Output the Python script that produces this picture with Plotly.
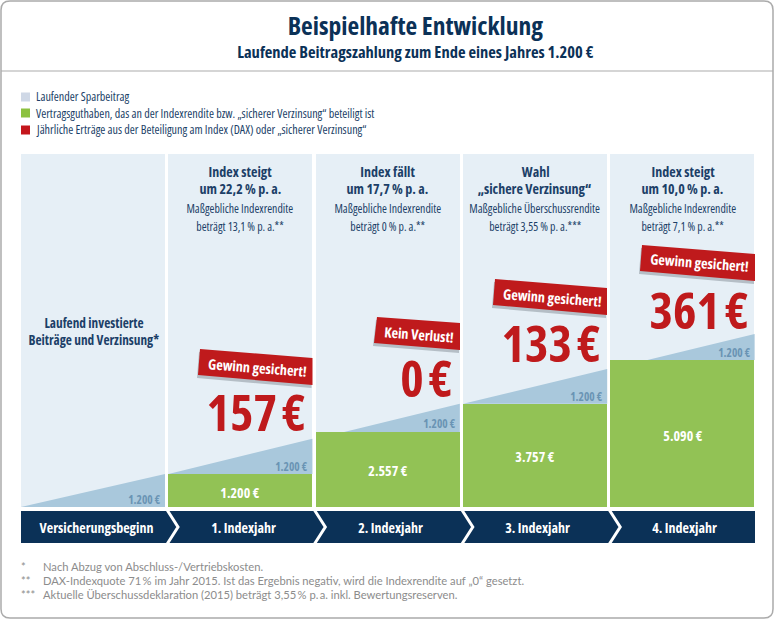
import numpy as np
import plotly.graph_objects as go

W, H = 775, 619
NAVY = "#0b3157"
TXT = "#1c3f68"
RED = "#bf1a1c"
NARROW = "Open Sans, sans-serif"
FOOT = "Lato, sans-serif"

categories = ["Versicherungsbeginn", "1. Indexjahr", "2. Indexjahr", "3. Indexjahr", "4. Indexjahr"]
# Heights, in euros at the scale of the first 1.200 € block
guthaben_drawn = [0, 1200, 2730, 3750, 5345]
beitrag_line = [0, 1200, 2480, 3750, 5020, 6290]
guthaben_labels = ["", "1.200 €", "2.557 €", "3.757 €", "5.090 €"]
beitrag_label = "1.200 €"
ertrag_labels = ["", "157\u200a€", "0\u200a€", "133\u200a€", "361\u200a€"]
banner_labels = ["", "Gewinn gesichert!", "Kein Verlust!", "Gewinn gesichert!", "Gewinn gesichert!"]
head1 = ["", "Index steigt", "Index fällt", "Wahl", "Index steigt"]
head2 = ["", "um 22,2\u2009% p.\u2009a.", "um 17,7\u2009% p.\u2009a.", "„sichere Verzinsung“", "um 10,0\u2009% p.\u2009a."]
sub1 = ["", "Maßgebliche Indexrendite", "Maßgebliche Indexrendite", "Maßgebliche Überschussrendite", "Maßgebliche Indexrendite"]
sub2 = ["", "beträgt 13,1\u2009% p.\u2009a.**", "beträgt 0\u2009% p.\u2009a.**", "beträgt 3,55\u2009% p.\u2009a.***", "beträgt 7,1\u2009% p.\u2009a.**"]
legend_labels = ["Laufender Sparbeitrag",
                 "Vertragsguthaben, das an der Indexrendite bzw. „sicherer Verzinsung“ beteiligt ist",
                 "Jährliche Erträge aus der Beteiligung am Index (DAX) oder „sicherer Verzinsung“"]
foot_marks = ["*", "**", "***"]
foot_texts = ["Nach Abzug von Abschluss-/Vertriebskosten.",
              "DAX-Indexquote 71\u2009% im Jahr 2015. Ist das Ergebnis negativ, wird die Indexrendite auf „0“ gesetzt.",
              "Aktuelle Überschussdeklaration (2015) beträgt 3,55\u2009% p.\u2009a. inkl. Bewertungsreserven."]

PANEL_TOP = 12836
BAR_W = 0.977
xs = np.arange(5)
fig = go.Figure()
fig.add_bar(x=xs, y=[PANEL_TOP] * 5, width=BAR_W, marker=dict(color="#e6eff6", line_width=0), hoverinfo="skip")
fig.add_bar(x=xs, y=guthaben_drawn, width=BAR_W, marker=dict(color="#92c255", line_width=0), hoverinfo="skip")

for i in xs:
    l, r = i - BAR_W / 2, i + BAR_W / 2
    a, b, g = beitrag_line[i], beitrag_line[i + 1], guthaben_drawn[i]
    start = l if a >= g else l + (g - a) / (b - a) * BAR_W
    sy = max(a, g)
    fig.add_scatter(x=[start, r, r, start], y=[sy, b, g, sy], mode="lines", fill="toself",
                    fillcolor="#a9c8dc", line=dict(width=0), hoverinfo="skip")

fig.update_layout(
    width=W, height=H, margin=dict(l=0, r=0, t=0, b=0), paper_bgcolor="white", plot_bgcolor="white",
    showlegend=False, barmode="overlay", bargap=0,
    xaxis=dict(domain=[19.3 / W, 756.3 / W], range=[-0.5, 4.5], visible=False, fixedrange=True),
    yaxis=dict(domain=[1 - 507 / H, 1 - 154 / H], range=[0, PANEL_TOP], visible=False, fixedrange=True),
)

px = lambda x: x / W
py = lambda y: 1 - y / H
shapes, ann = [], []


def path(points, closed=True):
    s = "M " + " L ".join(f"{px(x):.5f},{py(y):.5f}" for x, y in points)
    return s + (" Z" if closed else "")


def poly(points, fill=None, line=None, lw=0, closed=True):
    shapes.append(dict(type="path", xref="paper", yref="paper", path=path(points, closed),
                       fillcolor=fill if fill else "rgba(0,0,0,0)",
                       line=dict(color=line if line else "rgba(0,0,0,0)", width=lw)))


def text(x, y, t, size, color=TXT, bold=False, anchor="center", angle=0, font=NARROW, weight=None):
    f = dict(family=font, size=size, color=color)
    if weight:
        f["weight"] = weight
    elif bold:
        f["weight"] = 700
    ann.append(dict(xref="paper", yref="paper", x=px(x), y=py(y), text=t, showarrow=False,
                    xanchor=anchor, yanchor="middle", textangle=angle, align=anchor, font=f))


# Card frame
R = 9
x0, x1, y0, y1 = 1, 773, 1, 618
frame = (f"M {px(x0+R):.5f},{py(y0):.5f} L {px(x1-R):.5f},{py(y0):.5f} "
         f"Q {px(x1):.5f},{py(y0):.5f} {px(x1):.5f},{py(y0+R):.5f} L {px(x1):.5f},{py(y1-R):.5f} "
         f"Q {px(x1):.5f},{py(y1):.5f} {px(x1-R):.5f},{py(y1):.5f} L {px(x0+R):.5f},{py(y1):.5f} "
         f"Q {px(x0):.5f},{py(y1):.5f} {px(x0):.5f},{py(y1-R):.5f} L {px(x0):.5f},{py(y0+R):.5f} "
         f"Q {px(x0):.5f},{py(y0):.5f} {px(x0+R):.5f},{py(y0):.5f} Z")
shapes.append(dict(type="path", xref="paper", yref="paper", path=frame, line=dict(color="#ababab", width=1.5)))
poly([(1, 71), (773, 71)], line="#ababab", lw=1.2, closed=False)

text(415, 25, "Beispielhafte Entwicklung", 25.5, NAVY, True)
text(415, 52, "Laufende Beitragszahlung zum Ende eines Jahres 1.200 €", 16.5, NAVY, True)

# Legend
for y, c, t in zip([97, 113, 130], ["#cfd8e6", "#8cc13f", "#c4161c"], legend_labels):
    poly([(21, y - 4.5), (30, y - 4.5), (30, y + 4.5), (21, y + 4.5)], fill=c)
    text(34, y, t, 12.1, TXT, anchor="left")

# Chevron band
poly([(21, 511), (755, 511), (755, 543), (21, 543)], fill=NAVY)
cx = [93, 240, 387.5, 535, 682.5]
cat_x = [96, 244, 391, 538, 685]
for k, edge in enumerate([166.5, 313.8, 461.3, 608.7]):
    poly([(edge, 509), (edge + 11.5, 527), (edge, 545)], line="white", lw=3, closed=False)
for c, t in zip(cat_x, categories):
    text(c, 527, t, 14, "white", True)

# Left panel caption
text(94, 323, "Laufend investierte", 13.3, TXT, True)
text(94, 340, "Beiträge und Verzinsung*", 13.3, TXT, True)

# Panel headings
for i in range(1, 5):
    text(cx[i], 171, head1[i], 14, TXT, True)
    text(cx[i], 188, head2[i], 14, TXT, True)
    text(cx[i], 208, sub1[i], 11.8)
    text(cx[i], 226, sub2[i], 11.8)

# 1.200 € labels in the wedges and green values
for rx, y in zip([163, 310, 458, 605, 753], [499, 466, 423, 396, 352]):
    text(rx, y, beitrag_label, 11.5, "#6a94b4", True, anchor="right")
for i, y in zip(range(1, 5), [492, 470, 456, 435]):
    text(cx[i], y, guthaben_labels[i], 14, "white", True)

# Banners and big numbers
banners = [None,
           [(200, 349), (312.5, 358), (312.5, 385), (198, 375)],
           [(377, 317), (460, 323), (460, 350), (374, 343)],
           [(495, 279), (607, 288), (607, 315), (493, 305)],
           [(642, 245), (755, 254), (755, 281), (640, 271)]]
banner_c = [None, (257, 367), (419, 334), (552, 297), (699, 263)]
big = [None, (308, 412), (455, 378), (603, 343), (751, 310)]
for i in range(1, 5):
    pts = banners[i]
    poly([(x - 1, y + 3) for x, y in pts], fill="rgba(90,100,110,0.35)")
    poly(pts, fill=RED)
    text(*banner_c[i], banner_labels[i], 14.2, "white", True, angle=4.5)
    text(*big[i], ertrag_labels[i], 50, RED, anchor="right", weight=700)

# Footnotes
for y, m, t in zip([566, 580, 594], foot_marks, foot_texts):
    text(19, y, m, 11.2, "#8c8c8c", anchor="left", font=FOOT)
    text(41, y, t, 11.2, "#8c8c8c", anchor="left", font=FOOT)

fig.update_layout(shapes=shapes, annotations=ann)
fig.write_html("out.html", config={"displayModeBar": False},
               post_script="document.body.style.margin='0';var s=document.createElement('style');"
                           "s.textContent='svg text{font-stretch:75%}';document.head.appendChild(s);")
